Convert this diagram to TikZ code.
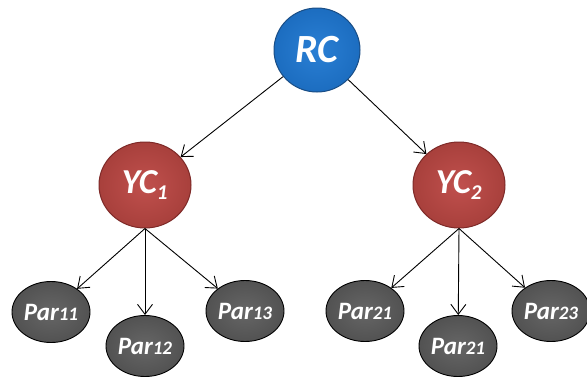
\documentclass[tikz,border=0pt]{standalone}
\usepackage{fontspec}
\setmainfont{Carlito}
\usetikzlibrary{arrows.meta,shapes.geometric}
\definecolor{rcblue}{HTML}{1C6DC0}
\definecolor{rcblueL}{HTML}{2A7FD4}
\definecolor{rcedge}{HTML}{1A4E86}
\definecolor{ycred}{HTML}{C0504D}
\definecolor{ycredD}{HTML}{A8403C}
\definecolor{ycedge}{HTML}{7E2A28}
\definecolor{pargray}{HTML}{666666}
\definecolor{pargrayD}{HTML}{525252}
\tikzset{
  x=1pt, y=-1pt,
  rootnode/.style={ellipse, minimum width=86pt, minimum height=84pt, inner sep=0pt,
    draw=rcedge, line width=1pt, inner color=rcblueL, outer color=rcblue,
    text=white, font=\bfseries\itshape\fontsize{40}{40}\selectfont},
  midnode/.style={ellipse, minimum width=92pt, minimum height=86pt, inner sep=0pt,
    draw=ycedge, line width=1pt, inner color=ycred, outer color=ycredD,
    text=white, font=\bfseries\itshape\fontsize{35}{35}\selectfont},
  leafnode/.style={ellipse, minimum width=78pt, minimum height=61pt, inner sep=0pt,
    draw=black, line width=0.9pt, inner color=pargray, outer color=pargrayD,
    text=white, font=\bfseries\itshape\fontsize{25}{25}\selectfont},
  link/.style={draw=black, line width=0.9pt, -{Straight Barb[length=10pt,width=15pt]}}
}
\newcommand{\sm}[1]{{\fontsize{19}{19}\selectfont #1}}
\begin{document}
\begin{tikzpicture}
\fill[white] (0,0) rectangle (587,376);
\useasboundingbox (0,0) rectangle (587,376);
\node[rootnode] (rc) at (317,50) {RC};
\node[midnode] (yc1) at (145,185) {YC$_{\mbox{\fontsize{21}{21}\selectfont\bfseries\itshape 1}}$};
\node[midnode] (yc2) at (459,185) {YC$_{\mbox{\fontsize{21}{21}\selectfont\bfseries\itshape 2}}$};
\node[leafnode] (p11) at (51,312) {Par\sm{11}};
\node[leafnode] (p12) at (145,346) {Par\sm{12}};
\node[leafnode] (p13) at (245,311) {Par\sm{13}};
\node[leafnode] (p21) at (365,311) {Par\sm{21}};
\node[leafnode] (p22) at (458,346) {Par\sm{21}};
\node[leafnode] (p23) at (551,311) {Par\sm{23}};
\draw[link] (rc) -- (yc1);
\draw[link] (rc) -- (yc2);
\draw[link] (yc1.south) -- (p11);
\draw[link] (yc1.south) -- (p12);
\draw[link] (yc1.south) -- (p13);
\draw[link] (yc2.south) -- (p21);
\draw[link] (yc2.south) -- (p22);
\draw[link] (yc2.south) -- (p23);
\end{tikzpicture}
\end{document}
